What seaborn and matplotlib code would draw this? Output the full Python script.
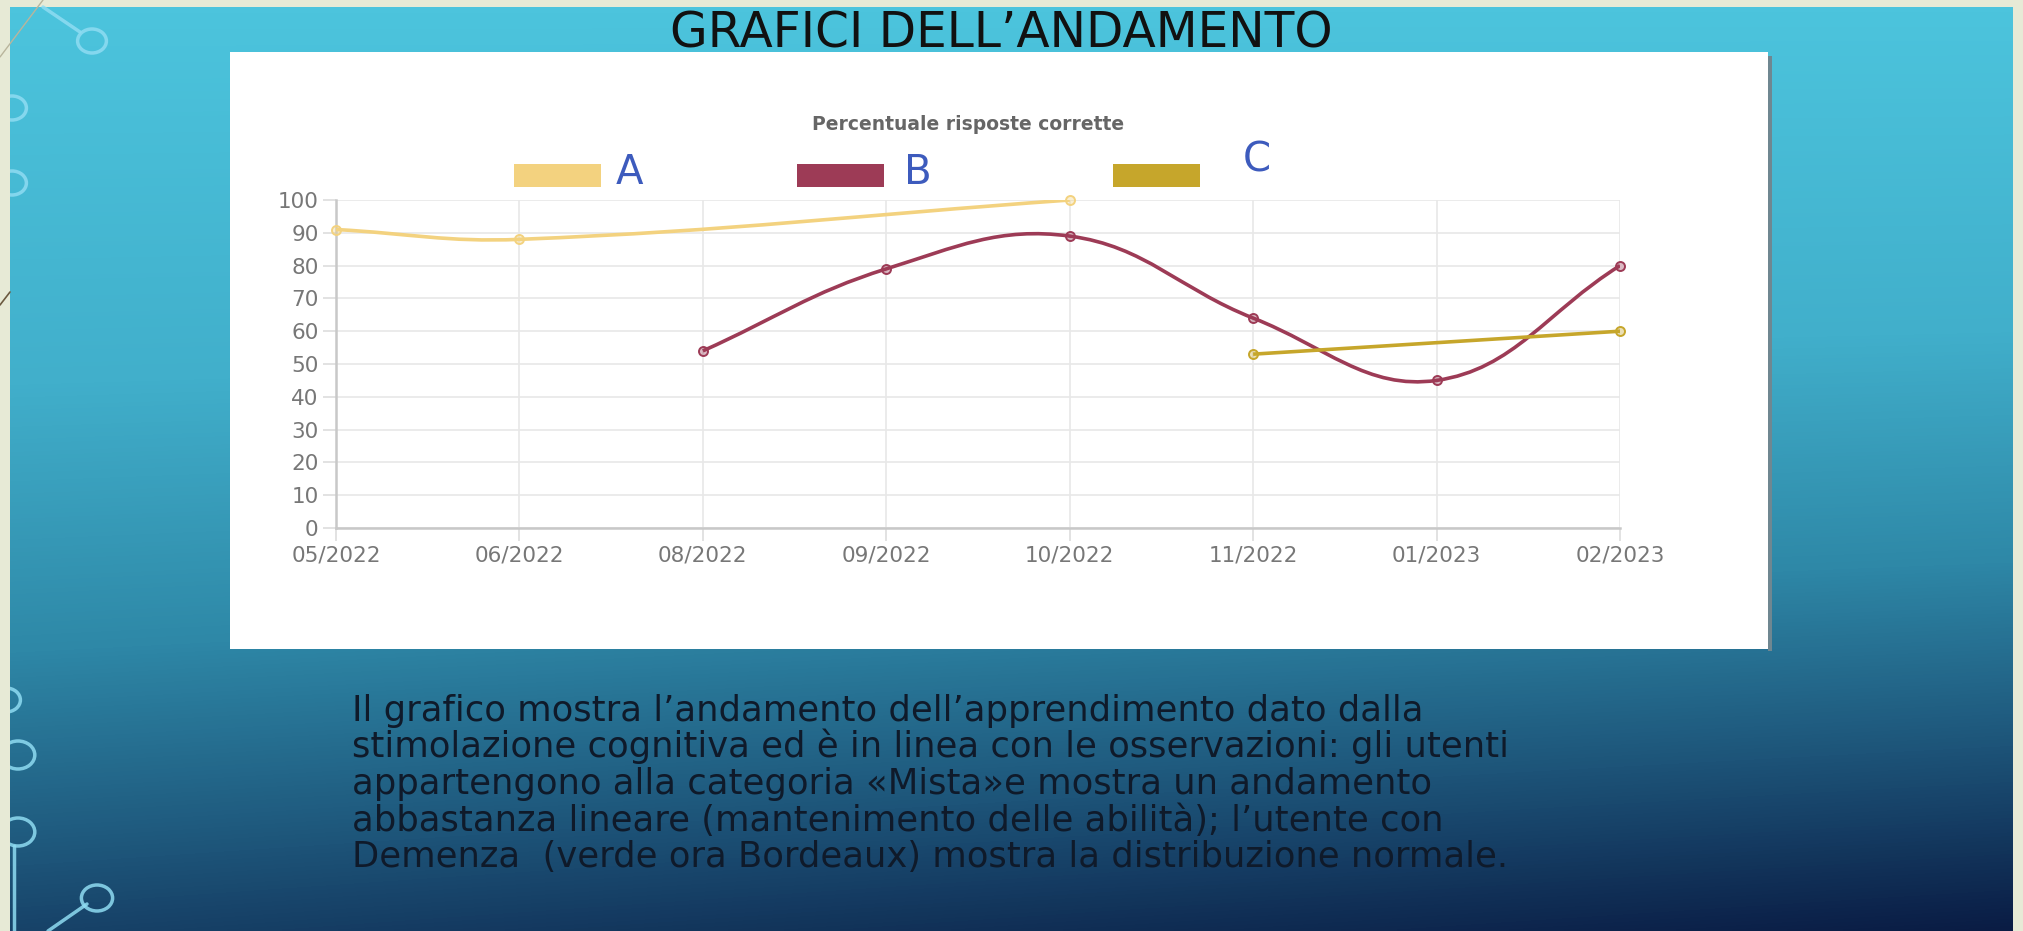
import numpy as np
import matplotlib.pyplot as plt
from matplotlib.colors import LinearSegmentedColormap, to_rgba
from matplotlib.path import Path
from matplotlib.patches import PathPatch, Rectangle, Ellipse
import seaborn as sns

# dati
mesi = ['05/2022', '06/2022', '08/2022', '09/2022', '10/2022', '11/2022', '01/2023', '02/2023']
serie_a = [91, 88, np.nan, np.nan, 100, np.nan, np.nan, np.nan]
serie_b = [np.nan, np.nan, 54, 79, 89, 64, 45, 80]
serie_c = [np.nan, np.nan, np.nan, np.nan, np.nan, 53, np.nan, 60]
etichette = ['A', 'B', 'C']
colori = ['#f3d27f', '#9d3b56', '#c6a62b']
valori_y = list(range(0, 101, 10))

titolo = 'GRAFICI DELL’ANDAMENTO'
titolo_grafico = 'Percentuale risposte corrette'
testo = [
    'Il grafico mostra l’andamento dell’apprendimento dato dalla',
    'stimolazione cognitiva ed è in linea con le osservazioni: gli utenti',
    'appartengono alla categoria «Mista»e mostra un andamento',
    'abbastanza lineare (mantenimento delle abilità); l’utente con',
    'Demenza  (verde ora Bordeaux) mostra la distribuzione normale.',
]

W, H = 2024, 931
sns.set_theme(style='white')
plt.rcParams['font.family'] = ['DejaVu Sans']

fig = plt.figure(figsize=(W / 100, H / 100), dpi=100, facecolor='#e7ead6')

# sfondo della slide (coordinate in pixel)
bg = fig.add_axes([0, 0, 1, 1])
bg.axis('off')
yy, xx = np.mgrid[0:1:300j, 0:1:400j]
sfumatura = LinearSegmentedColormap.from_list('slide', [
    (0, '#4cc4dd'), (0.35, '#41afcb'), (0.6, '#2e88a7'), (0.8, '#1d5479'), (1, '#0a1c44')])
bg.imshow(yy * (0.86 + 0.14 * xx), cmap=sfumatura, vmin=0, vmax=1,
          extent=(10, 2013, 931, 7), aspect='auto', interpolation='bilinear')
bg.set_xlim(0, W)
bg.set_ylim(H, 0)

slide = Rectangle((10, 7), 2003, 924, transform=bg.transData)
deco = dict(fc='none', ec='#8fdcf2', lw=2.5, alpha=0.85)
for cx, cy, r in [(92, 41, 12), (12, 108, 12), (12, 183, 12), (6, 700, 12),
                  (18, 755, 14), (18, 832, 14), (97, 898, 13)]:
    e = bg.add_patch(Ellipse((cx, cy), 2.4 * r, 2 * r, **deco))
    e.set_clip_path(slide)
for xs, ys in [([43, 80], [7, 32]), ([14, 14], [846, 931]), ([48, 87], [931, 904])]:
    bg.plot(xs, ys, color='#8fdcf2', lw=2.5, alpha=0.85)
bg.plot([43, 0], [0, 57], color='#b9b59c', lw=1)
bg.plot([10, 0], [292, 305], color='#6b5a40', lw=1.2)

# riquadro bianco del grafico
bg.add_patch(Rectangle((1768, 56), 4, 595, fc='#6f8791', ec='none'))
bg.add_patch(Rectangle((230, 52), 1538, 597, fc='white', ec='none'))

bg.text(1001, 47, titolo, ha='center', va='baseline', fontsize=35, color='#111111')
bg.text(968, 125, titolo_grafico, ha='center', va='center', fontsize=13.5,
        fontweight='bold', color='#666666')

# legenda (riscritta a mano nella slide)
for lab, col, bx, tx, ty in zip(etichette, colori, [514, 797, 1113], [616, 904, 1243], [173, 173, 160]):
    bg.add_patch(Rectangle((bx, 164), 87, 23, fc=col, ec='none'))
    bg.text(tx, ty, lab, ha='left', va='center', fontsize=29, color='#3d5bbd')

for i, riga in enumerate(testo):
    bg.text(352, 721 + i * 36.5, riga, ha='left', va='baseline', fontsize=25.5, color='#0f1a2a')

# grafico
ax = fig.add_axes([336 / W, 1 - 528 / H, 1284 / W, 328 / H])
ax.set_zorder(3)
ax.patch.set_alpha(0)
pos = np.arange(len(mesi))


def curva(ax, ys, colore, tensione=0.4, sx=183.4, sy=3.28):
    # spline come Chart.js (tension 0.4, spanGaps), calcolata in pixel
    pts = np.array([(x * sx, y * sy) for x, y in zip(pos, ys) if not np.isnan(y)])
    n = len(pts)
    prima, dopo = [], []
    for i in range(n):
        p0, p1, p2 = pts[max(i - 1, 0)], pts[i], pts[min(i + 1, n - 1)]
        d01, d12 = np.hypot(*(p1 - p0)), np.hypot(*(p2 - p1))
        s01, s12 = d01 / (d01 + d12), d12 / (d01 + d12)
        prima.append(p1 - tensione * s01 * (p2 - p0))
        dopo.append(p1 + tensione * s12 * (p2 - p0))
    verts, codes = [pts[0]], [Path.MOVETO]
    for i in range(n - 1):
        verts += [dopo[i], prima[i + 1], pts[i + 1]]
        codes += [Path.CURVE4] * 3
    verts = np.array(verts) / [sx, sy]
    ax.add_patch(PathPatch(Path(verts, codes), fc='none', ec=colore, lw=2.6, zorder=3))


for serie, col in zip([serie_a, serie_b, serie_c], colori):
    curva(ax, serie, col)
    sns.scatterplot(x=pos, y=serie, ax=ax, color=col, s=42, linewidth=1.4, zorder=4, legend=False)
    punti = ax.collections[-1]
    punti.set_facecolor(to_rgba(col, 0.35))
    punti.set_edgecolor(col)
    punti.set_clip_on(False)

ax.set_xlim(0, 7)
ax.set_ylim(0, 100)
ax.set_xticks(pos)
ax.set_xticklabels(mesi)
ax.set_yticks(valori_y)
ax.set_xlabel('')
ax.set_ylabel('')
ax.grid(True, color='#e8e8e8', lw=1.2)
ax.set_axisbelow(True)
ax.tick_params(bottom=True, left=True, length=9.5, width=1.2, color='#dddddd',
               labelsize=15.5, labelcolor='#777777')
ax.tick_params(axis='y', pad=3)
ax.tick_params(axis='x', pad=3)
for lato in ['top', 'right']:
    ax.spines[lato].set_visible(False)
for lato in ['left', 'bottom']:
    ax.spines[lato].set_color('#c8c8c8')
    ax.spines[lato].set_linewidth(1.8)

fig.savefig('out.png', dpi=100)
